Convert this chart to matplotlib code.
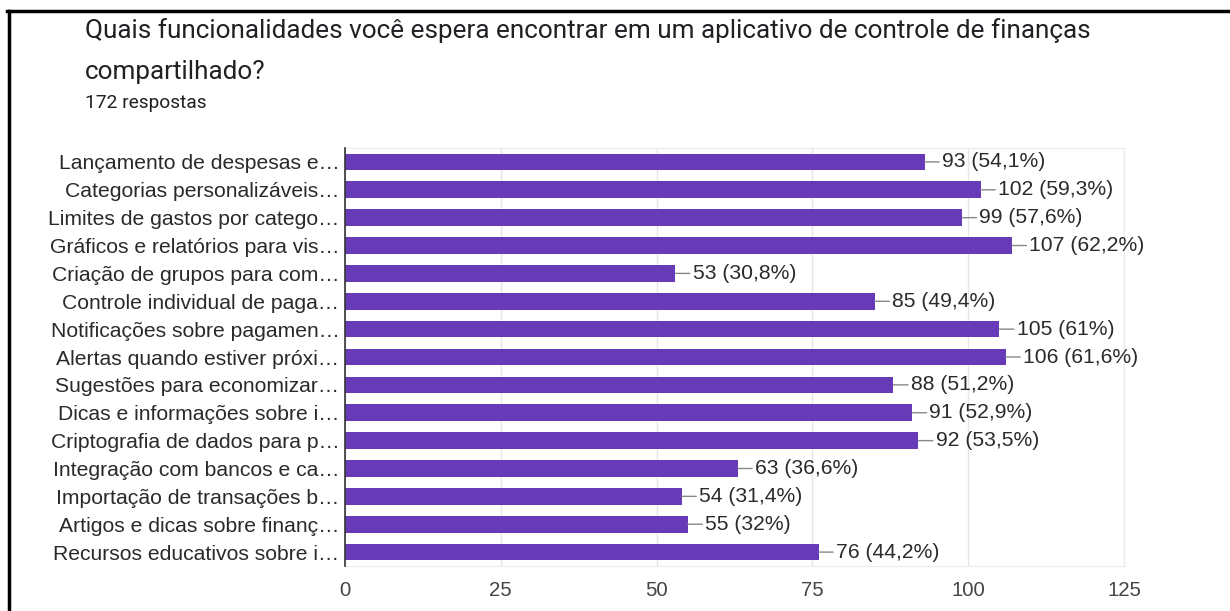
import matplotlib.pyplot as plt
from matplotlib.lines import Line2D

categories = [
    "Lançamento de despesas e…",
    "Categorias personalizáveis…",
    "Limites de gastos por catego…",
    "Gráficos e relatórios para vis…",
    "Criação de grupos para com…",
    "Controle individual de paga…",
    "Notificações sobre pagamen…",
    "Alertas quando estiver próxi…",
    "Sugestões para economizar…",
    "Dicas e informações sobre i…",
    "Criptografia de dados para p…",
    "Integração com bancos e ca…",
    "Importação de transações b…",
    "Artigos e dicas sobre finanç…",
    "Recursos educativos sobre i…",
]
counts = [93, 102, 99, 107, 53, 85, 105, 106, 88, 91, 92, 63, 54, 55, 76]
percents = ["54,1%", "59,3%", "57,6%", "62,2%", "30,8%", "49,4%", "61%",
            "61,6%", "51,2%", "52,9%", "53,5%", "36,6%", "31,4%", "32%", "44,2%"]
xticks = [0, 25, 50, 75, 100, 125]

purple = "#673ab7"

fig = plt.figure(figsize=(12.3, 6.11), dpi=100)
ax = fig.add_axes([0.2805, 0.0736, 0.6333, 0.6842])

ypos = list(range(len(categories)))
ax.barh(ypos, counts, height=0.6, color=purple, zorder=3)

for y, c, p in zip(ypos, counts, percents):
    ax.annotate(f"{c} ({p})", xy=(c, y), xytext=(12.5, 0), textcoords="offset points",
                va="center", ha="left", fontsize=15.2, color="#2a2a2a",
                family="Liberation Sans",
                arrowprops=dict(arrowstyle="-", color="#888888", lw=1,
                                shrinkA=0, shrinkB=0))

ax.set_xlim(0, 125)
ax.set_ylim(len(categories) - 0.5, -0.5)
ax.set_yticks(ypos)
ax.set_yticklabels(categories, fontsize=15.2, color="#2a2a2a", family="Liberation Sans")
ax.set_xticks(xticks)
ax.set_xticklabels([str(t) for t in xticks], fontsize=14.7, color="#444444",
                   family="Liberation Sans")
ax.tick_params(axis="both", length=0)
ax.tick_params(axis="x", pad=11)
ax.tick_params(axis="y", pad=4)
ax.grid(axis="x", color="#e6e6e6", lw=1, zorder=0)
for s in ["top", "right", "bottom"]:
    ax.spines[s].set_color("#ebebeb")
ax.spines["left"].set_color("#333333")
ax.spines["left"].set_linewidth(1.2)
ax.spines["left"].set_zorder(4)

fig.text(85 / 1230, 1 - 31 / 611, "Quais funcionalidades você espera encontrar em um aplicativo de controle de finanças",
         fontsize=18.8, family="Roboto", color="#202124", va="center", ha="left")
fig.text(85 / 1230, 1 - 72 / 611, "compartilhado?",
         fontsize=18.8, family="Roboto", color="#202124", va="center", ha="left")
fig.text(85 / 1230, 1 - 103 / 611, "172 respostas",
         fontsize=13.8, family="Roboto", color="#202124", va="center", ha="left")

# black frame from the screenshot (top and left edges)
fig.add_artist(Line2D([7 / 1230, 1], [1 - 11 / 611, 1 - 11 / 611], color="black", lw=2.5,
                      transform=fig.transFigure))
fig.add_artist(Line2D([8.5 / 1230, 8.5 / 1230], [0, 1 - 11 / 611], color="black", lw=2.5,
                      transform=fig.transFigure))

fig.savefig("out.png", dpi=100)
